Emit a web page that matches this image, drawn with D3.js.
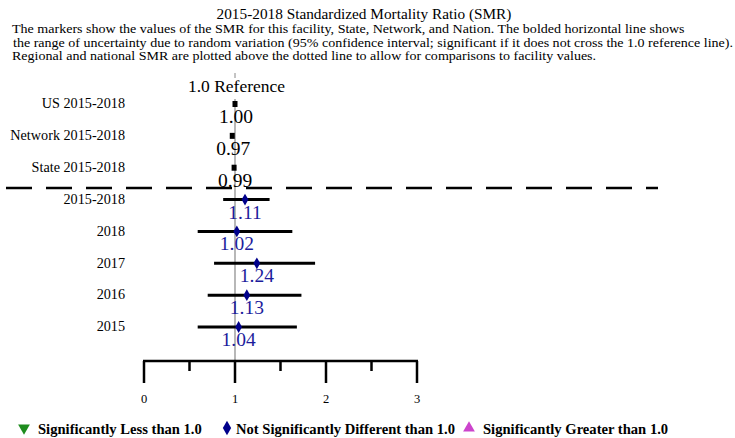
<!DOCTYPE html>
<html>
<head>
<meta charset="utf-8">
<script src="https://cdn.jsdelivr.net/npm/d3@7"></script>
<style>
  body { margin: 0; background: #fff; }
  text { font-family: "Liberation Serif", "Times New Roman", serif; }
</style>
</head>
<body>
<div id="chart"></div>
<script>
const width = 735, height = 438;

// reference rows (above the dotted line)
const refLabels = ["US 2015-2018", "Network 2015-2018", "State 2015-2018"];
const refValues = [1.00, 0.97, 0.99];

// facility rows
const facLabels = ["2015-2018", "2018", "2017", "2016", "2015"];
const facValues = [1.11, 1.02, 1.24, 1.13, 1.04];
const facLower = [0.87, 0.59, 0.77, 0.70, 0.59];
const facUpper = [1.38, 1.63, 1.88, 1.73, 1.68];

const axisTicks = [0, 1, 2, 3];
const legendLabels = ["Significantly Less than 1.0", "Not Significantly Different than 1.0", "Significantly Greater than 1.0"];

const svg = d3.select("#chart").append("svg")
  .attr("width", width)
  .attr("height", height);

const x = d3.scaleLinear().domain([0, 3]).range([144, 417]);
const y = d3.scalePoint()
  .domain(refLabels.concat(facLabels))
  .range([104, 327]);

// title + notes
svg.append("text")
  .attr("x", 364).attr("y", 19)
  .attr("text-anchor", "middle")
  .style("font-size", "15.3px")
  .text("2015-2018 Standardized Mortality Ratio (SMR)");

const notes = [
  "The markers show the values of the SMR for this facility, State, Network, and Nation. The bolded horizontal line shows",
  "the range of uncertainty due to random variation (95% confidence interval; significant if it does not cross the 1.0 reference line).",
  "Regional and national SMR are plotted above the dotted line to allow for comparisons to facility values."
];
const noteText = svg.selectAll(".note")
  .data(notes)
  .join("text")
    .attr("class", "note")
    .attr("x", (d, i) => i == 1 ? 13 : 12)
    .attr("y", (d, i) => 33 + i * 13.5)
    .style("font-size", "12.6px")
    .text(d => d);

// the notes are set a little wider than the font: line 2 runs to the right edge
const noteLens = noteText.nodes().map(n => n.getComputedTextLength());
const stretch = (733 - 13) / noteLens[1];
noteText
  .attr("textLength", (d, i) => noteLens[i] * stretch)
  .attr("lengthAdjust", "spacingAndGlyphs");

// reference line at 1.0
svg.append("line")
  .attr("x1", x(1)).attr("x2", x(1))
  .attr("y1", 73).attr("y2", 78)
  .style("stroke", "#888").style("stroke-width", 1);
svg.append("line")
  .attr("x1", x(1)).attr("x2", x(1))
  .attr("y1", 99).attr("y2", 361)
  .style("stroke", "#888").style("stroke-width", 1.2);

svg.append("text")
  .attr("x", x(1) + 1.5).attr("y", 92)
  .attr("text-anchor", "middle")
  .style("font-size", "17.5px")
  .text("1.0 Reference");

// dashed separator
svg.append("line")
  .attr("x1", -34).attr("x2", 658)
  .attr("y1", 188).attr("y2", 188)
  .style("stroke", "#000")
  .style("stroke-width", 2.5)
  .style("stroke-dasharray", "26,14");

// row labels
svg.selectAll(".rowlab")
  .data(refLabels.concat(facLabels))
  .join("text")
    .attr("class", "rowlab")
    .attr("x", 125)
    .attr("y", d => y(d) + 1)
    .attr("text-anchor", "end")
    .attr("dominant-baseline", "middle")
    .style("font-size", "14.2px")
    .text(d => d);

// reference markers
svg.selectAll(".refmark")
  .data(refValues)
  .join("rect")
    .attr("class", "refmark")
    .attr("x", d => x(d) - 2.5)
    .attr("y", (d, i) => y(refLabels[i]) - 3)
    .attr("width", 5).attr("height", 6)
    .style("fill", "#000");

svg.selectAll(".refval")
  .data(refValues)
  .join("text")
    .attr("class", "refval")
    .attr("x", d => x(d) + 1)
    .attr("y", (d, i) => y(refLabels[i]) + 19)
    .attr("text-anchor", "middle")
    .style("font-size", "19.5px")
    .text(d => d.toFixed(2));

// confidence intervals
svg.selectAll(".ci")
  .data(facLabels)
  .join("line")
    .attr("class", "ci")
    .attr("x1", (d, i) => x(facLower[i]))
    .attr("x2", (d, i) => x(facUpper[i]))
    .attr("y1", d => y(d)).attr("y2", d => y(d))
    .style("stroke", "#000")
    .style("stroke-width", 3);

const diamond = d3.symbol().type(d3.symbolDiamond);

svg.selectAll(".facmark")
  .data(facValues)
  .join("path")
    .attr("class", "facmark")
    .attr("d", diamond.size(40))
    .attr("transform", (d, i) => `translate(${x(d)},${y(facLabels[i])})`)
    .style("fill", "#00008b");

svg.selectAll(".facval")
  .data(facValues)
  .join("text")
    .attr("class", "facval")
    .attr("x", d => x(d))
    .attr("y", (d, i) => y(facLabels[i]) + 19)
    .attr("text-anchor", "middle")
    .style("font-size", "19.5px")
    .style("fill", "#1c1c9c")
    .text(d => d.toFixed(2));

// bottom axis
const axisY = 361;
svg.append("line")
  .attr("x1", x(0) - 1).attr("x2", x(3) + 1)
  .attr("y1", axisY).attr("y2", axisY)
  .style("stroke", "#000").style("stroke-width", 2.5);

svg.selectAll(".major")
  .data(axisTicks)
  .join("line")
    .attr("class", "major")
    .attr("x1", d => x(d)).attr("x2", d => x(d))
    .attr("y1", axisY).attr("y2", 383)
    .style("stroke", "#000").style("stroke-width", 2.5);

svg.selectAll(".minor")
  .data(axisTicks.slice(0, -1).map(d => d + 0.5))
  .join("line")
    .attr("class", "minor")
    .attr("x1", d => x(d)).attr("x2", d => x(d))
    .attr("y1", axisY).attr("y2", 371)
    .style("stroke", "#000").style("stroke-width", 2.5);

svg.selectAll(".ticklab")
  .data(axisTicks)
  .join("text")
    .attr("class", "ticklab")
    .attr("x", d => x(d))
    .attr("y", 403)
    .attr("text-anchor", "middle")
    .style("font-size", "12.5px")
    .text(d => d);

// legend
const legendX = [24, 227, 469];
const legendTextX = [38, 236, 483];
const legendColors = ["#1e8c1e", "#00008b", "#cc44cc"];
const legendSymbols = [
  d3.symbol().type(d3.symbolTriangle).size(60),
  d3.symbol().type(d3.symbolDiamond).size(60),
  d3.symbol().type(d3.symbolTriangle).size(60)
];

const leg = svg.selectAll(".leg")
  .data(legendLabels)
  .join("g")
    .attr("class", "leg");

leg.append("path")
  .attr("d", (d, i) => legendSymbols[i]())
  .attr("transform", (d, i) => `translate(${legendX[i]},428)` + (i == 0 ? " rotate(180)" : ""))
  .style("fill", (d, i) => legendColors[i]);

leg.append("text")
  .attr("x", (d, i) => legendTextX[i])
  .attr("y", 434)
  .style("font-size", "14.6px")
  .style("font-weight", "bold")
  .text(d => d);
</script>
</body>
</html>
